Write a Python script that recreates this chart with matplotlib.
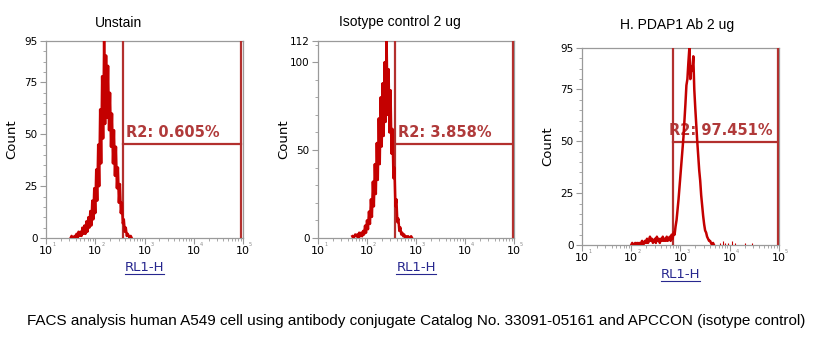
import numpy as np
import matplotlib
matplotlib.use("Agg")
import matplotlib.pyplot as plt
from matplotlib.lines import Line2D
from matplotlib.ticker import FixedLocator, NullFormatter

# histogram counts per channel, channels spaced 0.02 decades apart
unstain_start = 1.50
unstain_counts = [
    0, 1, 0, 0, 1, 0, 2, 0, 3, 1, 3, 1, 5, 2, 6, 2, 8, 3, 10, 5,
    13, 6, 18, 9, 24, 12, 33, 18, 45, 25, 62, 36, 78, 48, 95, 55, 88, 58, 83, 52,
    70, 44, 60, 36, 52, 30, 44, 24, 34, 17, 26, 12, 17, 7, 9, 3, 5, 1, 2, 1,
    0, 1, 0,
]

isotype_start = 1.70
isotype_counts = [
    1, 0, 1, 2, 1, 2, 0, 3, 1, 3, 1, 4, 2, 7, 3, 10, 5, 15, 8, 22,
    12, 32, 18, 42, 25, 54, 33, 68, 42, 80, 52, 88, 58, 100, 66, 112, 70, 96, 60, 84,
    48, 62, 34, 40, 18, 22, 9, 11, 4, 6, 2, 3, 1, 2, 0, 1, 0, 1, 0, 0,
    1, 0,
]

pdap1_start = 2.00
pdap1_counts = [
    0, 1, 0, 0, 1, 0, 1, 0, 1, 0, 1, 2, 0, 1, 2, 1, 3, 1, 2, 4,
    2, 3, 1, 2, 3, 1, 4, 2, 3, 1, 3, 2, 4, 2, 3, 2, 4, 2, 3, 4,
    2, 5, 3, 6, 5, 9, 12, 17, 22, 28, 34, 40, 46, 52, 60, 68, 77, 80, 88, 95,
    80, 86, 84, 91, 75, 66, 58, 50, 43, 36, 31, 24, 19, 14, 10, 7, 6, 4, 3, 2,
    2, 1, 0, 1, 0,
]
pdap1_tail_log = [3.80, 3.86, 3.90, 3.96, 4.05, 4.10, 4.30, 4.45]
pdap1_tail_count = [1, 2, 1, 1, 2, 1, 1, 1]

titles = ["Unstain", "Isotype control 2 ug", "H. PDAP1 Ab 2 ug"]
y_max = [95, 112, 95]
y_major = [[0, 25, 50, 75, 95], [0, 50, 100, 112], [0, 25, 50, 75, 95]]
y_minor_step = [5, 10, 5]
gate_lo = [366, 372, 700]
gate_hi = [92000, 95000, 95000]
gate_level = [45.3, 53.4, 49.7]
gate_text = ["R2: 0.605%", "R2: 3.858%", "R2: 97.451%"]

caption = ("FACS analysis human A549 cell using antibody conjugate Catalog No. "
           "33091-05161 and APCCON (isotype control)")

hist_color = "#c40000"
gate_color = "#b3302e"
axis_grey = "#9a9a9a"

fig = plt.figure(figsize=(8.31, 3.62), dpi=100)
W, H = 831, 362


def px_axes(left, top, right, bottom):
    return [left / W, 1 - bottom / H, (right - left) / W, (bottom - top) / H]


boxes = [px_axes(46, 41, 243, 238), px_axes(318, 41, 514, 238), px_axes(582, 48, 779, 245)]
title_pos = [(118, 23), (400, 22), (677, 25)]

series = [
    (unstain_start, unstain_counts),
    (isotype_start, isotype_counts),
    (pdap1_start, pdap1_counts),
]

xlabels = []
for i, box in enumerate(boxes):
    ax = fig.add_axes(box)
    start, counts = series[i]
    logs = start + 0.02 * np.arange(len(counts))
    ax.plot(10 ** logs, counts, color=hist_color, lw=1.8, zorder=4)
    if i == 2:
        ax.vlines(10 ** np.array(pdap1_tail_log), 0, pdap1_tail_count,
                  color=hist_color, lw=0.8, zorder=4)

    # R2 gate
    ax.plot([gate_lo[i], gate_lo[i]], [0, y_max[i]], color=gate_color, lw=1.6, zorder=3)
    ax.plot([gate_hi[i], gate_hi[i]], [0, y_max[i]], color=gate_color, lw=1.6, zorder=3)
    ax.plot([gate_lo[i], gate_hi[i]], [gate_level[i]] * 2, color=gate_color, lw=1.6, zorder=3)
    dx = -3 if i == 2 else 2
    ax.annotate(gate_text[i], xy=(gate_lo[i], gate_level[i]), xytext=(dx, 3),
                textcoords="offset points", ha="left", va="bottom",
                fontsize=10.5, fontweight="bold", color="#b03a3a",
                family="DejaVu Sans", zorder=2)

    ax.set_xscale("log")
    ax.set_xlim(10, 1e5)
    ax.set_ylim(0, y_max[i])

    decades = [10, 100, 1000, 10000, 100000]
    ax.xaxis.set_major_locator(FixedLocator(decades))
    ax.set_xticklabels(["10"] * 5)
    minors = [m * d for d in decades[:-1] for m in range(2, 10)]
    ax.xaxis.set_minor_locator(FixedLocator(minors))
    ax.xaxis.set_minor_formatter(NullFormatter())
    for k, d in enumerate(decades):
        ax.annotate(str(k + 1), xy=(d, 0), xycoords=("data", "axes fraction"),
                    xytext=(5.5, -4.5), textcoords="offset points",
                    fontsize=3.5, color="#888888", ha="center", va="center")

    ax.yaxis.set_major_locator(FixedLocator(y_major[i]))
    ax.yaxis.set_minor_locator(FixedLocator(list(range(0, y_max[i], y_minor_step[i]))))

    ax.tick_params(which="both", direction="out", color=axis_grey, labelsize=8,
                   labelcolor="black")
    ax.tick_params(which="major", length=4, pad=2)
    ax.tick_params(which="minor", length=2)
    ax.tick_params(axis="y", labelsize=7.5)
    for s in ax.spines.values():
        s.set_color(axis_grey)
        s.set_linewidth(0.9)

    ax.text(-0.175, 0.5, "Count", transform=ax.transAxes, rotation=90,
            ha="center", va="center", fontsize=9.5, family="DejaVu Sans")
    xl = ax.text(0.5, -0.152, "RL1-H", transform=ax.transAxes, ha="center",
                 va="center", fontsize=9.5, color="#27278f", family="DejaVu Sans")
    xlabels.append(xl)

    tx, ty = title_pos[i]
    fig.text(tx / W, 1 - ty / H, titles[i], ha="center", va="center",
             fontsize=10, family="Liberation Sans")

cap = fig.text(27 / W, 1 - 321 / H, caption, ha="left", va="center",
               fontsize=10, family="Liberation Sans")

fig.canvas.draw()
renderer = fig.canvas.get_renderer()
# fit caption to the width it takes in the reference (~780 px)
cap_w = cap.get_window_extent(renderer).width
cap.set_fontsize(10 * 780 / cap_w)

# underline the axis labels
for xl in xlabels:
    bb = xl.get_window_extent(renderer)
    y = (bb.y0 + 0.5) / H
    fig.add_artist(Line2D([bb.x0 / W, bb.x1 / W], [y, y], color="#27278f", lw=0.8))

fig.savefig("out.png", dpi=100)
